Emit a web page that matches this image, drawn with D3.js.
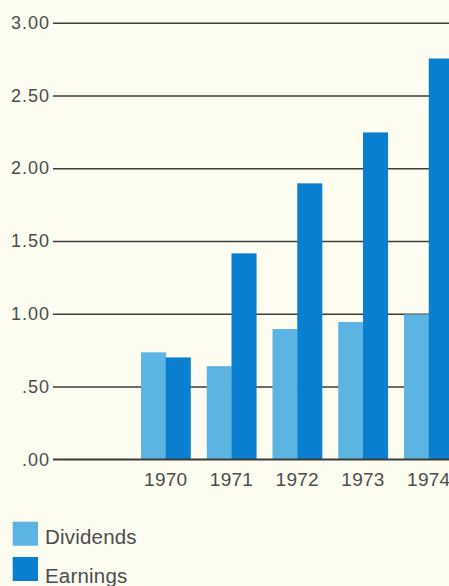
<!DOCTYPE html>
<html>
<head>
<meta charset="utf-8">
<script src="https://cdn.jsdelivr.net/npm/d3@7"></script>
<style>
  html, body { margin: 0; padding: 0; background: #fcfcf1; }
  svg { display: block; }
  text { font-family: "Liberation Sans", Arial, sans-serif; fill: #4d4d4d; }
</style>
</head>
<body>
<svg id="chart" width="449" height="586"></svg>
<script>
const years = ["1970", "1971", "1972", "1973", "1974"];
const seriesNames = ["Dividends", "Earnings"];
const dividends = [0.735, 0.64, 0.895, 0.943, 0.996];
const earnings = [0.70, 1.415, 1.896, 2.246, 2.754];
const yTicks = [0, 0.5, 1.0, 1.5, 2.0, 2.5, 3.0];
const yTickLabels = [".00", ".50", "1.00", "1.50", "2.00", "2.50", "3.00"];
const colors = ["#5cb4e2", "#0a7fd0"];

const svg = d3.select("#chart");
const W = 449, H = 586;

const y = d3.scaleLinear().domain([0, 3]).range([459.3, 22.7]);
const x = d3.scaleBand().domain(years).range([141, 453.5]).paddingInner(0.247).paddingOuter(0);
const xs = d3.scaleBand().domain(seriesNames).range([0, x.bandwidth()]).padding(0);

const yAxis = d3.axisLeft(y)
  .tickValues(yTicks)
  .tickFormat((d, i) => yTickLabels[i])
  .tickSize(-(W - 53))
  .tickPadding(3);

const gAxis = svg.append("g")
  .attr("transform", "translate(53,0)")
  .call(yAxis);
gAxis.select(".domain").remove();
gAxis.selectAll(".tick line")
  .attr("stroke", "#3d3d3a")
  .attr("stroke-width", 1.6);
gAxis.selectAll(".tick text")
  .attr("font-size", 18)
  .attr("letter-spacing", 1)
  .attr("fill", "#585a52")
  .style("font-family", "'Liberation Sans', Arial, sans-serif");

const data = years.map((yr, i) => ({ year: yr, values: [dividends[i], earnings[i]] }));
const groups = svg.append("g").selectAll("g")
  .data(data).join("g")
  .attr("transform", d => `translate(${x(d.year)},0)`);
groups.selectAll("rect")
  .data(d => d.values.map((v, j) => ({ name: seriesNames[j], v, j })))
  .join("rect")
  .attr("x", d => xs(d.name))
  .attr("width", xs.bandwidth() + 0.3)
  .attr("y", d => y(d.v))
  .attr("height", d => y(0) - y(d.v))
  .attr("fill", d => colors[d.j]);

svg.append("line")
  .attr("x1", 53).attr("x2", W)
  .attr("y1", y(0)).attr("y2", y(0))
  .attr("stroke", "#3d3d3a").attr("stroke-width", 1.6);

const xAxis = d3.axisBottom(x).tickSize(0).tickPadding(0);
const gx = svg.append("g")
  .attr("transform", `translate(0,${y(0)})`)
  .call(xAxis);
gx.select(".domain").remove();
gx.selectAll(".tick text")
  .attr("dy", 0)
  .attr("y", 27)
  .attr("x", xs("Earnings") - x.bandwidth() / 2)
  .attr("font-size", 19)
  .attr("letter-spacing", 0.3)
  .attr("fill", "#52534d")
  .style("font-family", "'Liberation Sans', Arial, sans-serif");

const legend = svg.append("g");
const legendY = [521.7, 557];
const legendBase = [544.3, 583];
seriesNames.forEach((name, i) => {
  legend.append("rect")
    .attr("x", 12.7).attr("y", legendY[i])
    .attr("width", 25.3).attr("height", 24)
    .attr("fill", colors[i]);
  legend.append("text")
    .attr("x", 45).attr("y", legendBase[i])
    .attr("font-size", 20.5)
    .attr("letter-spacing", 0.2)
    .attr("fill", "#52534d")
    .text(name);
});
</script>
</body>
</html>
